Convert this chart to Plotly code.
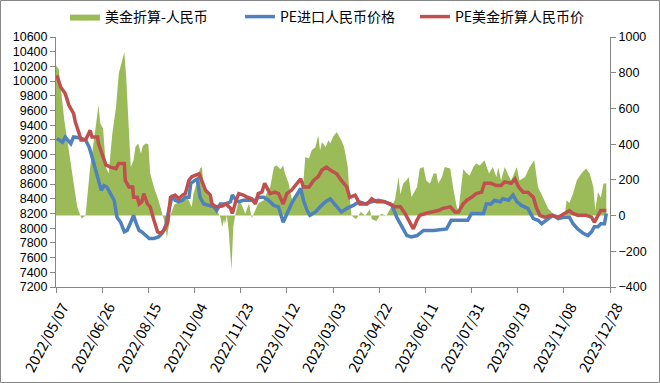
import plotly.graph_objects as go

# ---- data ----
diff_dates = ["2022-05-07","2022-05-10","2022-05-16","2022-05-21","2022-05-26","2022-05-30","2022-06-03","2022-06-04","2022-06-08","2022-06-10",
"2022-06-13","2022-06-19","2022-06-22","2022-06-24","2022-06-27","2022-06-30","2022-07-03","2022-07-07","2022-07-11","2022-07-14",
"2022-07-18","2022-07-20","2022-07-22","2022-07-25","2022-07-27","2022-07-30","2022-08-01","2022-08-04","2022-08-07","2022-08-09",
"2022-08-12","2022-08-15","2022-08-17","2022-08-21","2022-08-26","2022-08-30","2022-09-03","2022-09-04","2022-09-06","2022-09-08",
"2022-09-12","2022-09-19","2022-09-26","2022-10-01","2022-10-03","2022-10-07","2022-10-10","2022-10-12","2022-10-14","2022-10-16",
"2022-10-21","2022-10-25","2022-10-28","2022-11-01","2022-11-03","2022-11-05","2022-11-06","2022-11-08","2022-11-10","2022-11-13",
"2022-11-15","2022-11-17","2022-11-21","2022-11-24","2022-11-28","2022-12-02","2022-12-05","2022-12-09","2022-12-12","2022-12-18",
"2022-12-21","2022-12-25","2022-12-29","2023-01-01","2023-01-05","2023-01-08","2023-01-10","2023-01-14","2023-01-16","2023-01-19",
"2023-01-23","2023-01-27","2023-01-30","2023-02-01","2023-02-05","2023-02-08","2023-02-12","2023-02-15","2023-02-17","2023-02-19",
"2023-02-23","2023-02-26","2023-02-28","2023-03-03","2023-03-07","2023-03-12","2023-03-15","2023-03-19","2023-03-21","2023-03-23",
"2023-03-28","2023-04-02","2023-04-07","2023-04-12","2023-04-14","2023-04-19","2023-04-24","2023-04-30","2023-05-09","2023-05-13",
"2023-05-15","2023-05-18","2023-05-22","2023-05-24","2023-05-27","2023-06-02","2023-06-05","2023-06-09","2023-06-12","2023-06-16",
"2023-06-20","2023-06-23","2023-06-25","2023-06-29","2023-07-02","2023-07-08","2023-07-11","2023-07-15","2023-07-17","2023-07-19",
"2023-07-22","2023-07-26","2023-07-29","2023-08-02","2023-08-05","2023-08-09","2023-08-14","2023-08-19","2023-08-23","2023-08-27",
"2023-08-29","2023-09-01","2023-09-05","2023-09-09","2023-09-12","2023-09-18","2023-09-21","2023-09-27","2023-10-02","2023-10-07",
"2023-10-11","2023-10-17","2023-10-22","2023-10-27","2023-11-02","2023-11-09","2023-11-11","2023-11-14","2023-11-18","2023-11-22",
"2023-11-27","2023-12-02","2023-12-06","2023-12-10","2023-12-12","2023-12-15","2023-12-18","2023-12-21","2023-12-24"]
diff_values = [840,820,534,366,179,48,-8,-17,0,104,
272,496,618,515,487,272,235,459,608,795,
870,916,776,515,272,310,384,403,347,390,
403,400,235,160,86,11,-64,-129,-60,0,
60,80,104,48,123,197,263,272,160,140,
86,48,30,-8,-64,-20,-50,0,-82,-306,
-64,0,86,60,10,67,-15,30,67,86,
123,160,272,281,260,281,235,179,123,67,
104,142,197,328,320,366,384,450,366,412,
384,422,403,440,468,422,384,272,104,0,
-20,20,0,35,-20,-30,10,0,86,216,
120,179,200,216,104,160,263,272,197,179,
235,235,179,216,272,263,160,48,30,120,
260,235,225,272,291,280,310,235,272,216,
270,197,272,225,197,272,197,216,272,310,
160,95,39,11,0,5,86,70,123,197,
235,263,235,160,30,132,100,179,179]

import_dates = ["2022-05-08","2022-05-14","2022-05-17","2022-05-23","2022-05-26","2022-06-01","2022-06-08","2022-06-12","2022-06-15","2022-06-19",
"2022-06-23","2022-06-25","2022-06-28","2022-07-01","2022-07-05","2022-07-09","2022-07-12","2022-07-16","2022-07-20","2022-07-23",
"2022-07-27","2022-07-30","2022-08-02","2022-08-05","2022-08-08","2022-08-12","2022-08-16","2022-08-21","2022-08-26","2022-08-30",
"2022-09-03","2022-09-06","2022-09-10","2022-09-13","2022-09-17","2022-09-21","2022-09-24","2022-09-28","2022-09-30","2022-10-07",
"2022-10-10","2022-10-14","2022-10-19","2022-10-25","2022-10-28","2022-11-01","2022-11-07","2022-11-12","2022-11-14","2022-11-18",
"2022-11-21","2022-11-26","2022-12-09","2022-12-12","2022-12-18","2022-12-23","2022-12-29","2023-01-03","2023-01-08","2023-01-12",
"2023-01-17","2023-01-21","2023-01-27","2023-01-30","2023-02-03","2023-02-06","2023-02-12","2023-02-17","2023-02-23","2023-02-28",
"2023-03-05","2023-03-12","2023-03-18","2023-03-25","2023-03-31","2023-04-07","2023-04-14","2023-04-21","2023-04-28","2023-05-06",
"2023-05-11","2023-05-16","2023-05-22","2023-05-27","2023-06-02","2023-06-09","2023-06-20","2023-07-04","2023-07-09","2023-07-17",
"2023-07-27","2023-07-31","2023-08-13","2023-08-16","2023-08-21","2023-08-25","2023-08-31","2023-09-03","2023-09-09","2023-09-14",
"2023-09-18","2023-09-23","2023-09-30","2023-10-06","2023-10-11","2023-10-15","2023-10-20","2023-10-27","2023-11-02","2023-11-09",
"2023-11-14","2023-11-18","2023-11-23","2023-11-29","2023-12-04","2023-12-08","2023-12-11","2023-12-15","2023-12-18","2023-12-22",
"2023-12-24"]
import_values = [9220,9170,9240,9150,9240,9230,9200,9100,8970,8790,
8610,8515,8580,8560,8470,8380,8150,8080,7950,7970,
8080,8175,8060,7970,7950,7900,7860,7860,7880,7930,
8040,8240,8450,8380,8360,8380,8420,8420,8610,8670,
8420,8330,8310,8290,8240,8330,8330,8360,8450,8380,
8360,8380,8380,8420,8420,8380,8310,8290,8080,8200,
8330,8420,8540,8380,8240,8175,8220,8290,8360,8400,
8330,8220,8270,8310,8360,8330,8360,8380,8360,8310,
8150,8040,7900,7880,7900,7970,7970,7990,8107,8107,
8107,8200,8200,8330,8330,8380,8360,8400,8380,8450,
8360,8310,8270,8130,8107,8060,8107,8175,8130,8150,
8150,8060,7990,7930,7900,7950,8020,8020,8060,8060,
8200]

usd_dates = ["2022-05-08","2022-05-12","2022-05-17","2022-05-21","2022-05-26","2022-05-28","2022-06-01","2022-06-03","2022-06-08","2022-06-13",
"2022-06-15","2022-06-21","2022-06-22","2022-06-26","2022-06-30","2022-07-05","2022-07-11","2022-07-14","2022-07-20","2022-07-21",
"2022-07-25","2022-07-29","2022-07-30","2022-08-03","2022-08-05","2022-08-08","2022-08-10","2022-08-14","2022-08-17","2022-08-21",
"2022-08-25","2022-08-28","2022-09-01","2022-09-05","2022-09-06","2022-09-08","2022-09-13","2022-09-17","2022-09-21","2022-09-24",
"2022-09-28","2022-10-01","2022-10-09","2022-10-12","2022-10-16","2022-10-21","2022-10-23","2022-10-27","2022-11-03","2022-11-07",
"2022-11-12","2022-11-14","2022-11-18","2022-11-21","2022-11-26","2022-11-30","2022-12-05","2022-12-09","2022-12-12","2022-12-16",
"2022-12-19","2022-12-23","2022-12-25","2022-12-30","2023-01-03","2023-01-08","2023-01-12","2023-01-17","2023-01-21","2023-01-27",
"2023-01-30","2023-02-05","2023-02-10","2023-02-15","2023-02-19","2023-02-24","2023-02-28","2023-03-03","2023-03-07","2023-03-12",
"2023-03-18","2023-03-21","2023-03-27","2023-04-01","2023-04-09","2023-04-14","2023-04-19","2023-04-27","2023-05-04","2023-05-09",
"2023-05-15","2023-05-20","2023-05-25","2023-05-29","2023-06-02","2023-06-05","2023-06-11","2023-06-20","2023-06-25","2023-06-30",
"2023-07-08","2023-07-13","2023-07-17","2023-07-22","2023-07-26","2023-07-31","2023-08-05","2023-08-11","2023-08-14","2023-08-21",
"2023-08-27","2023-09-01","2023-09-05","2023-09-12","2023-09-16","2023-09-20","2023-09-25","2023-09-30","2023-10-06","2023-10-09",
"2023-10-13","2023-10-18","2023-10-26","2023-11-02","2023-11-09","2023-11-14","2023-11-18","2023-11-23","2023-12-02","2023-12-08",
"2023-12-11","2023-12-15","2023-12-18","2023-12-24"]
usd_values = [10080,9920,9830,9670,9560,9440,9290,9200,9200,9330,
9240,9240,9150,9010,8860,8830,8810,8880,8880,8650,
8560,8560,8420,8420,8330,8360,8470,8330,8290,8110,
7950,7930,7970,8080,8240,8420,8450,8400,8450,8470,
8650,8700,8740,8650,8515,8450,8330,8290,8300,8330,
8270,8200,8380,8470,8450,8420,8400,8330,8470,8490,
8610,8515,8470,8490,8470,8330,8470,8515,8580,8670,
8560,8560,8650,8700,8790,8830,8790,8770,8740,8650,
8560,8420,8450,8330,8330,8400,8360,8360,8330,8290,
8290,8200,8080,7990,8110,8175,8200,8220,8240,8270,
8290,8220,8220,8330,8380,8420,8470,8490,8610,8610,
8580,8580,8630,8610,8670,8560,8490,8490,8420,8290,
8175,8150,8175,8150,8200,8240,8200,8175,8175,8150,
8080,8175,8240,8240]

x_ticks = ["2022-05-07","2022-06-26","2022-08-15","2022-10-04","2022-11-23","2023-01-12","2023-03-03",
           "2023-04-22","2023-06-11","2023-07-31","2023-09-19","2023-11-08","2023-12-28"]
x_tick_text = [d.replace("-", "/") for d in x_ticks]

series_names = ["美金折算-人民币", "PE进口人民币价格", "PE美金折算人民币价"]

GREEN, BLUE, RED = "#9BBB59", "#4F81BD", "#C0504D"
AXIS = "#868686"
FONT = "Noto Sans CJK SC, Noto Sans, sans-serif"
NUM_FONT = "Liberation Sans, Arial, sans-serif"

fig = go.Figure()
fig.add_trace(go.Scatter(x=diff_dates, y=diff_values, name=series_names[0], mode="lines",
                         line=dict(width=0, color=GREEN), fill="tozeroy", fillcolor=GREEN, yaxis="y"))
fig.add_trace(go.Scatter(x=import_dates, y=import_values, name=series_names[1], mode="lines",
                         line=dict(width=3.5, color=BLUE), yaxis="y2"))
fig.add_trace(go.Scatter(x=usd_dates, y=usd_values, name=series_names[2], mode="lines",
                         line=dict(width=3.5, color=RED), yaxis="y2"))

fig.update_layout(
    width=660, height=383,
    margin=dict(l=56, r=50, t=37, b=96, autoexpand=False),
    paper_bgcolor="white", plot_bgcolor="white",
    font=dict(family=FONT, size=12, color="#000000"),
    showlegend=True,
    legend=dict(orientation="h", x=0.49, xanchor="center", y=1.08, yanchor="middle",
                font=dict(size=14), itemwidth=30, entrywidth=130, entrywidthmode="pixels",
                traceorder="normal", bgcolor="rgba(0,0,0,0)"),
    xaxis=dict(type="date", range=["2022-05-07", "2023-12-28"], tickmode="array",
               tickvals=x_ticks, ticktext=x_tick_text, tickangle=-62, ticklabelshift=7,
               showline=True, linecolor=AXIS, linewidth=1, ticks="outside", ticklen=5, tickcolor=AXIS,
               showgrid=False, zeroline=False, tickfont=dict(size=14.5)),
    yaxis=dict(range=[-400, 1000], dtick=200, side="right", showline=True, linecolor=AXIS, linewidth=1,
               ticks="outside", ticklen=5, tickcolor=AXIS, showgrid=False, zeroline=False,
               tickformat="d", tickfont=dict(family=NUM_FONT, size=12.5)),
    yaxis2=dict(range=[7200, 10600], dtick=200, side="left", overlaying="y", showline=True,
                linecolor=AXIS, linewidth=1, ticks="outside", ticklen=5, tickcolor=AXIS,
                showgrid=False, zeroline=False, tickformat="d",
                tickfont=dict(family=NUM_FONT, size=12.5)),
    shapes=[dict(type="rect", xref="paper", yref="paper",
                 x0=-55.5/554, x1=1 + 49.5/554, y0=-95.5/250, y1=1 + 36.5/250,
                 line=dict(color=AXIS, width=1), fillcolor="rgba(0,0,0,0)", layer="below")],
)

fig.write_html("out.html", config={"displayModeBar": False},
               post_script="document.body.style.margin='0';document.body.style.overflow='hidden';")
